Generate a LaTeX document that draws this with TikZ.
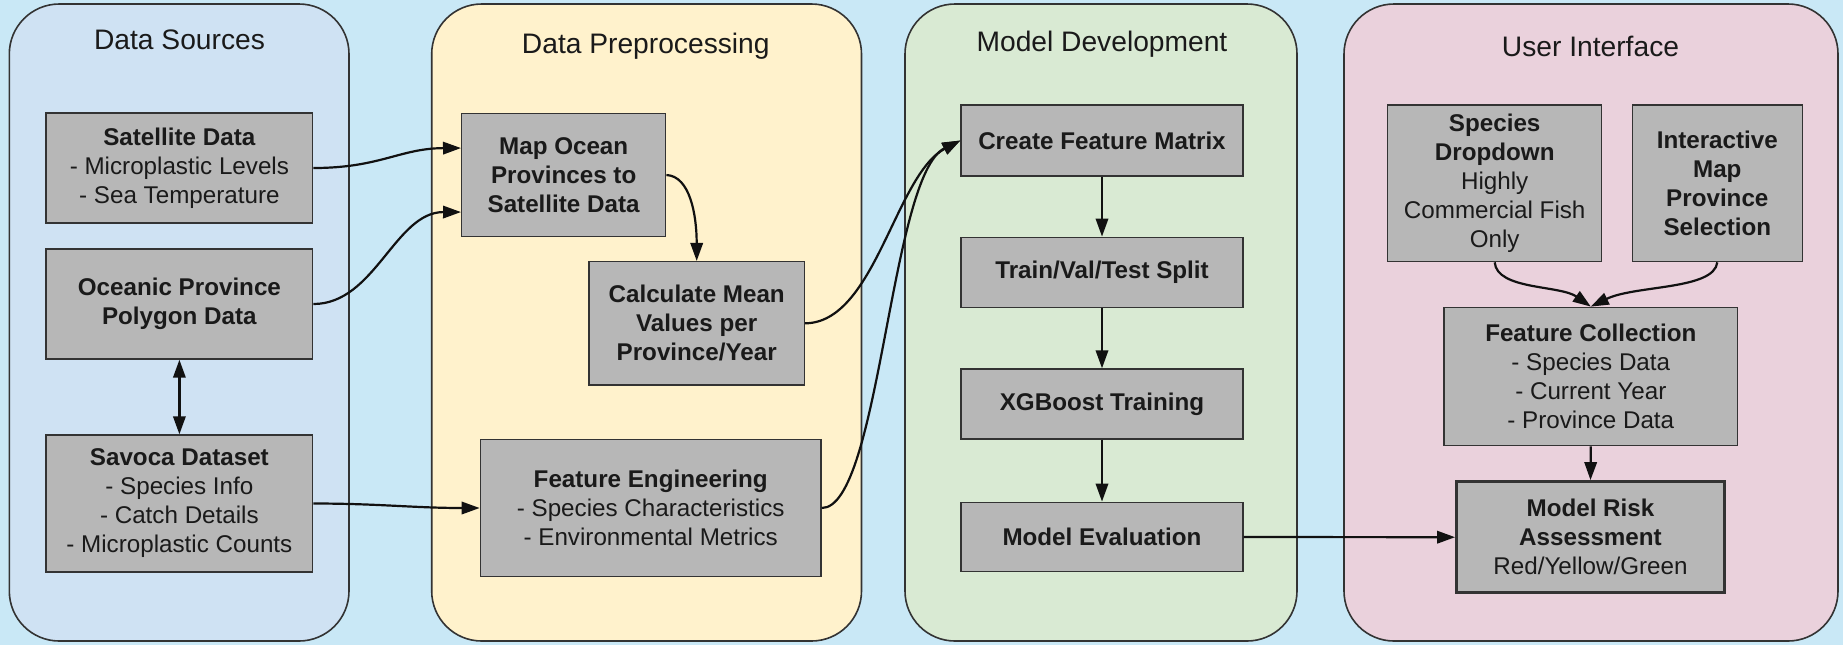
\documentclass[tikz,border=0pt]{standalone}
\usepackage{fontspec}
\setmainfont{Liberation Sans}
\usetikzlibrary{arrows.meta,calc}
\definecolor{bg}{RGB}{201,232,246}
\definecolor{dsfill}{HTML}{CFE2F3}
\definecolor{dpfill}{HTML}{FFF2CC}
\definecolor{mdfill}{HTML}{D9EAD3}
\definecolor{uifill}{HTML}{EAD1DC}
\definecolor{nodefill}{HTML}{B7B7B7}
\definecolor{edgecol}{HTML}{111111}
\definecolor{bordercol}{HTML}{333333}
\definecolor{txtcol}{HTML}{1A1A1A}
\begin{document}
\begin{tikzpicture}[x=0.5pt,y=-0.5pt,
  cluster/.style={draw=bordercol, line width=0.8pt, rounded corners=25pt},
  ctitle/.style={font=\fontsize{14.1}{16}\selectfont, text=txtcol, inner sep=0pt, anchor=base},
  box/.style={draw=bordercol, fill=nodefill, line width=0.7pt, align=center, inner sep=0pt,
    font=\fontsize{12.1}{14.5}\selectfont, text=txtcol},
  riskbox/.style={box, line width=1.6pt},
  tip/.tip={Triangle[length=9pt,width=6.2pt]},
  edge/.style={draw=edgecol, line width=1.1pt, -tip},
  dedge/.style={draw=edgecol, line width=1.1pt, tip-tip},
]
\useasboundingbox (0,0) rectangle (1843,645);
\fill[bg] (0,0) rectangle (1843,645);

% clusters
\draw[cluster, fill=dsfill] (9.3,4) rectangle (349,641);
\draw[cluster, fill=dpfill] (431.7,4) rectangle (861.5,641);
\draw[cluster, fill=mdfill] (905,4) rectangle (1297,641);
\draw[cluster, fill=uifill] (1344,4) rectangle (1838,641);

\node[ctitle] (tds) at (179.5,49) {Data Sources};
\node[ctitle] (tdp) at (645.8,53.5) {Data Preprocessing};
\node[ctitle] (tmd) at (1102,51.4) {Model Development};
\node[ctitle] (tui) at (1590.5,56.8) {User Interface};

% Data Sources
\node[box, minimum width=133.35pt, minimum height=55pt] (sat) at (179.4,168)
  {\textbf{Satellite Data}\\- Microplastic Levels\\- Sea Temperature};
\node[box, minimum width=133.35pt, minimum height=55pt] (oce) at (179.4,304)
  {\textbf{Oceanic Province}\\\textbf{Polygon Data}};
\node[box, minimum width=133.35pt, minimum height=68.5pt] (sav) at (179.4,503.5)
  {\textbf{Savoca Dataset}\\- Species Info\\- Catch Details\\- Microplastic Counts};

% Data Preprocessing
\node[box, minimum width=102pt, minimum height=61.7pt] (map) at (563.7,175)
  {\textbf{Map Ocean}\\\textbf{Provinces to}\\\textbf{Satellite Data}};
\node[box, minimum width=107.65pt, minimum height=61.65pt] (calc) at (696.7,323.3)
  {\textbf{Calculate Mean}\\\textbf{Values per}\\\textbf{Province/Year}};
\node[box, minimum width=170.35pt, minimum height=68.7pt] (fe) at (650.7,508)
  {\textbf{Feature Engineering}\\- Species Characteristics\\- Environmental Metrics};

% Model Development
\node[box, minimum width=141pt, minimum height=35.5pt] (cfm) at (1102,140.5)
  {\textbf{Create Feature Matrix}};
\node[box, minimum width=141pt, minimum height=35.2pt] (tvt) at (1102,272.5)
  {\textbf{Train/Val/Test Split}};
\node[box, minimum width=141pt, minimum height=35pt] (xgb) at (1102,404)
  {\textbf{XGBoost Training}};
\node[box, minimum width=141pt, minimum height=34.7pt] (eval) at (1102,537)
  {\textbf{Model Evaluation}};

% User Interface
\node[box, minimum width=107pt, minimum height=78.35pt] (spec) at (1494.7,183.3)
  {\textbf{Species}\\\textbf{Dropdown}\\Highly\\Commercial Fish\\Only};
\node[box, minimum width=85pt, minimum height=78.35pt] (inter) at (1717.3,183.3)
  {\textbf{Interactive}\\\textbf{Map}\\\textbf{Province}\\\textbf{Selection}};
\node[box, minimum width=146.85pt, minimum height=69.2pt] (fc) at (1590.8,376.5)
  {\textbf{Feature Collection}\\- Species Data\\- Current Year\\- Province Data};
\node[riskbox, minimum width=133.8pt, minimum height=55.5pt] (risk) at (1590.5,537.2)
  {\textbf{Model Risk}\\\textbf{Assessment}\\Red/Yellow/Green};

% entry points on Map Ocean
\coordinate (mapin1) at ($(map.north west)!0.284!(map.south west)$);
\coordinate (mapin2) at ($(map.north west)!0.797!(map.south west)$);

% edges
\draw[edge] (sat.east) .. controls (380,168) and (400,148.3) .. (mapin1);
\draw[edge] (oce.east) .. controls (375,304) and (395,212) .. (mapin2);
\draw[dedge] (oce.south) -- (sav.north);
\draw[edge] (sav.east) to[out=0,in=180] (fe.west);
\draw[edge] (map.east) .. controls (690,176) and (696.7,215) .. (calc.north);
\draw[edge] (calc.east) .. controls (875,323) and (895,175) .. (cfm.west);
\draw[edge] (fe.east) .. controls (880,508) and (890,175) .. (cfm.west);
\draw[edge] (cfm.south) -- (tvt.north);
\draw[edge] (tvt.south) -- (xgb.north);
\draw[edge] (xgb.south) -- (eval.north);
\draw[edge] (eval.east) -- (risk.west);
\draw[edge] (spec.south) .. controls (1497,290) and (1560,285) .. (fc.north);
\draw[edge] (inter.south) .. controls (1714,290) and (1635,285) .. (fc.north);
\draw[edge] (fc.south) -- (risk.north);
\end{tikzpicture}
\end{document}
